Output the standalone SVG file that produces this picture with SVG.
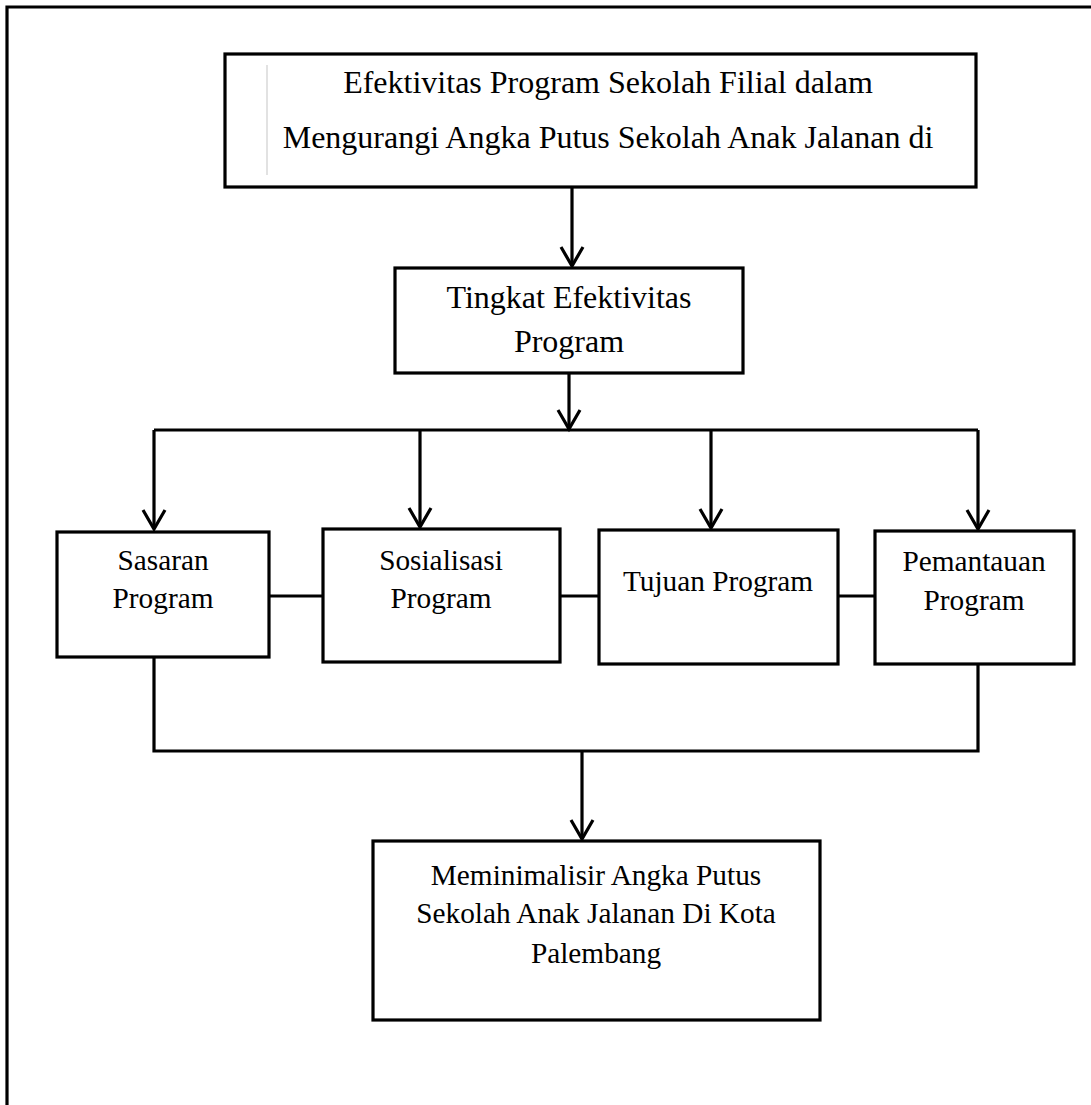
<svg xmlns="http://www.w3.org/2000/svg" width="1091" height="1105" viewBox="0 0 1091 1105">
<style>
.box{fill:#fff;stroke:#000;stroke-width:3.2}
.ln{fill:none;stroke:#000;stroke-width:3.2}
.t{font-family:"Liberation Serif","Times New Roman",serif;fill:#000;text-anchor:middle}
.big{font-size:32px}
.sm{font-size:29.3px}
</style>
<defs>
<marker id="ah" markerUnits="userSpaceOnUse" markerWidth="26" markerHeight="30" viewBox="-22 -14 26 28" refX="0" refY="0" orient="auto">
<path d="M-19,-11 L0,0 L-19,11" fill="none" stroke="#000" stroke-width="3.2" stroke-linejoin="miter"/>
</marker>
</defs>
<rect width="1091" height="1105" fill="#fff"/>
<g id="frame"><path class="ln" d="M7,1105 V7 H1091" stroke-width="2.2"/></g>
<g id="connectors">
<path class="ln" d="M572,187 V266" marker-end="url(#ah)"/>
<path class="ln" d="M569,373 V429" marker-end="url(#ah)"/>
<path class="ln" d="M154,430 H978"/>
<path class="ln" d="M154,430 V529" marker-end="url(#ah)"/>
<path class="ln" d="M420,430 V527" marker-end="url(#ah)"/>
<path class="ln" d="M711,430 V528" marker-end="url(#ah)"/>
<path class="ln" d="M978,430 V529" marker-end="url(#ah)"/>
<path class="ln" d="M269,596 H323"/>
<path class="ln" d="M560,596 H599"/>
<path class="ln" d="M838,596 H875"/>
<path class="ln" d="M154,657 V751 H978 V664"/>
<path class="ln" d="M582,751 V839" marker-end="url(#ah)"/>
</g>
<g id="n-title">
<rect class="box" x="225" y="54" width="751" height="133"/>
<line x1="267" y1="65" x2="267" y2="175" stroke="#d9d9d9" stroke-width="1.5"/>
<text class="t big" x="608" y="93">Efektivitas Program Sekolah Filial dalam</text>
<text class="t big" x="608" y="148">Mengurangi Angka Putus Sekolah Anak Jalanan di</text>
</g>
<g id="n-tingkat">
<rect class="box" x="395" y="268" width="348" height="105"/>
<text class="t big" x="569" y="308">Tingkat Efektivitas</text>
<text class="t big" x="569" y="352">Program</text>
</g>
<g id="n-sasaran">
<rect class="box" x="57" y="532" width="212" height="125"/>
<text class="t sm" x="163" y="570">Sasaran</text>
<text class="t sm" x="163" y="608">Program</text>
</g>
<g id="n-sosialisasi">
<rect class="box" x="323" y="529" width="237" height="133"/>
<text class="t sm" x="441" y="570">Sosialisasi</text>
<text class="t sm" x="441" y="608">Program</text>
</g>
<g id="n-tujuan">
<rect class="box" x="599" y="530" width="239" height="134"/>
<text class="t sm" x="718" y="591">Tujuan Program</text>
</g>
<g id="n-pemantauan">
<rect class="box" x="875" y="531" width="199" height="133"/>
<text class="t sm" x="974" y="571">Pemantauan</text>
<text class="t sm" x="974" y="610">Program</text>
</g>
<g id="n-hasil">
<rect class="box" x="373" y="841" width="447" height="179"/>
<text class="t sm" x="596" y="885">Meminimalisir Angka Putus</text>
<text class="t sm" x="596" y="923">Sekolah Anak Jalanan Di Kota</text>
<text class="t sm" x="596" y="963">Palembang</text>
</g>
</svg>
